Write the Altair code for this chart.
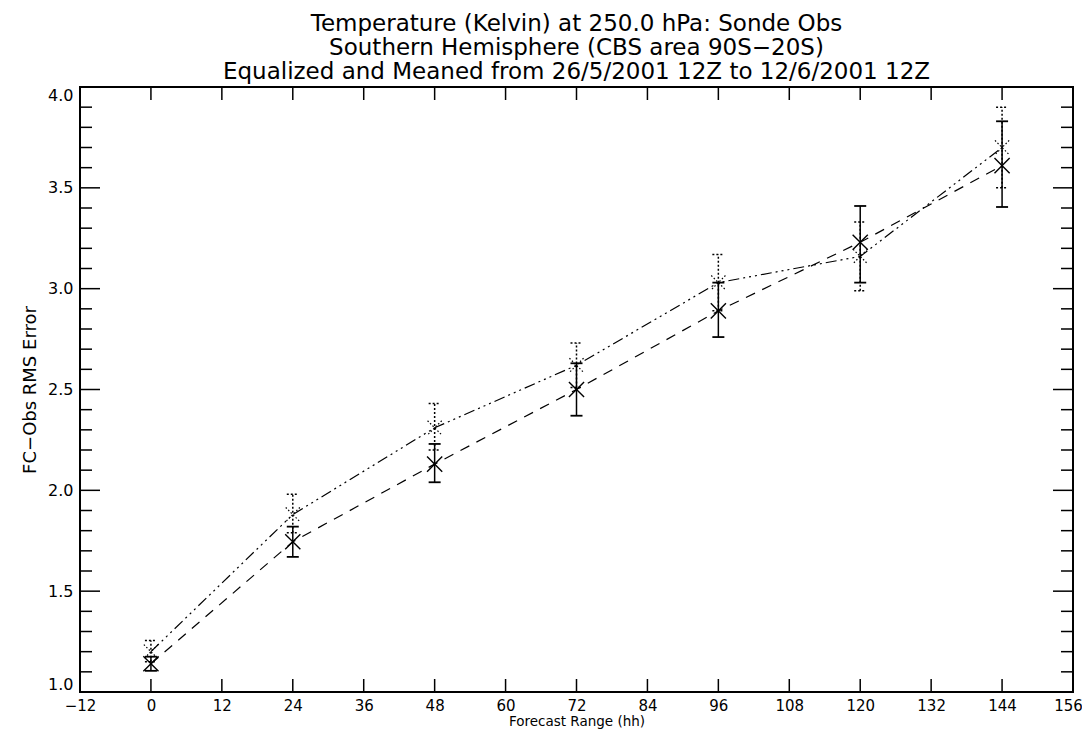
import altair as alt
import pandas as pd

# ---- data ----
hours = [0, 24, 48, 72, 96, 120, 144]

# series A (dash-dot-dot-dot line, dotted error bars)
rms_a = [1.20, 1.88, 2.31, 2.62, 3.03, 3.16, 3.70]
lo_a = [1.15, 1.79, 2.20, 2.51, 2.89, 2.99, 3.50]
hi_a = [1.255, 1.98, 2.43, 2.73, 3.17, 3.33, 3.90]

# series B (dashed line, X markers, solid error bars)
rms_b = [1.14, 1.745, 2.13, 2.50, 2.89, 3.23, 3.61]
lo_b = [1.105, 1.67, 2.04, 2.37, 2.76, 3.03, 3.405]
hi_b = [1.175, 1.82, 2.23, 2.63, 3.03, 3.41, 3.83]

x_ticks = [-12, 0, 12, 24, 36, 48, 60, 72, 84, 96, 108, 120, 132, 144, 156]
y_major = [1.0, 1.5, 2.0, 2.5, 3.0, 3.5, 4.0]
y_minor = [1.1, 1.2, 1.3, 1.4, 1.6, 1.7, 1.8, 1.9, 2.1, 2.2, 2.3, 2.4,
           2.6, 2.7, 2.8, 2.9, 3.1, 3.2, 3.3, 3.4, 3.6, 3.7, 3.8, 3.9]

title_lines = [
    "Temperature (Kelvin) at 250.0 hPa:  Sonde Obs",
    "Southern Hemisphere (CBS area 90S\u221220S)",
    "Equalized and Meaned from 26/5/2001 12Z to 12/6/2001 12Z",
]
x_title = "Forecast Range (hh)"
y_title = "FC\u2212Obs RMS Error"

W, H = 993, 605
FONT = "DejaVu Sans"

df = pd.DataFrame({
    "hour": hours,
    "rms_a": rms_a, "lo_a": lo_a, "hi_a": hi_a,
    "rms_b": rms_b, "lo_b": lo_b, "hi_b": hi_b,
})
dfx = pd.DataFrame({"hour": x_ticks})
dfy_major = pd.DataFrame({"v": y_major})
dfy_minor = pd.DataFrame({"v": y_minor})

xs = alt.Scale(domain=[-12, 156], nice=False, zero=False)
ys = alt.Scale(domain=[1.0, 4.0], nice=False, zero=False)

x_axis = alt.Axis(values=x_ticks, ticks=False, tickSize=0, domain=False, grid=False,
                  labelFont=FONT, labelFontSize=15, labelColor="black", labelPadding=6,
                  labelOffset={"condition": {"test": "datum.value >= 156", "value": -5},
                               "value": 0},
                  titleFont=FONT, titleFontSize=13.5, titleFontWeight="normal",
                  titleColor="black", titlePadding=1, labelFlush=False)
y_axis = alt.Axis(values=y_major, format=".1f", ticks=False, tickSize=0, domain=False,
                  grid=False, labelFont=FONT, labelFontSize=16, labelColor="black",
                  labelPadding=7, titleFont=FONT, titleFontSize=18,
                  titleFontWeight="normal", titleColor="black", titlePadding=8,
                  labelFlush=True)


def X(field):
    return alt.X(f"{field}:Q", scale=xs, axis=x_axis, title=x_title)


def Y(field):
    return alt.Y(f"{field}:Q", scale=ys, axis=y_axis, title=y_title)


def Y2(field):
    return alt.Y2(f"{field}:Q")


black = "black"

# ---- axis ticks drawn inward on all four sides ----
xt_bottom = alt.Chart(dfx).mark_rule(color=black, strokeWidth=1.5).encode(
    x=X("hour"), y=alt.value(H), y2=alt.value(H - 13))
xt_top = alt.Chart(dfx).mark_rule(color=black, strokeWidth=1.5).encode(
    x=X("hour"), y=alt.value(0), y2=alt.value(13))
yt_major_l = alt.Chart(dfy_major).mark_rule(color=black, strokeWidth=1.5).encode(
    y=Y("v"), x=alt.value(0), x2=alt.value(20))
yt_major_r = alt.Chart(dfy_major).mark_rule(color=black, strokeWidth=1.5).encode(
    y=Y("v"), x=alt.value(W - 20), x2=alt.value(W))
yt_minor_l = alt.Chart(dfy_minor).mark_rule(color=black, strokeWidth=1.5).encode(
    y=Y("v"), x=alt.value(0), x2=alt.value(12))
yt_minor_r = alt.Chart(dfy_minor).mark_rule(color=black, strokeWidth=1.5).encode(
    y=Y("v"), x=alt.value(W - 12), x2=alt.value(W))

base = alt.Chart(df)

# ---- series A ----
line_a = base.mark_line(color=black, strokeWidth=1.2,
                        strokeDash=[11, 4, 2, 4, 2, 4, 2, 4]).encode(
    x=X("hour"), y=Y("rms_a"))
err_a = base.mark_rule(color=black, strokeWidth=1.5, strokeDash=[2, 2]).encode(
    x=X("hour"), y=Y("lo_a"), y2=Y2("hi_a"))
cap_a_lo = base.mark_rule(color=black, strokeWidth=1.5, strokeDash=[2, 2],
                          xOffset=-6, x2Offset=6).encode(
    x=X("hour"), x2=alt.X2("hour:Q"), y=Y("lo_a"))
cap_a_hi = base.mark_rule(color=black, strokeWidth=1.5, strokeDash=[2, 2],
                          xOffset=-6, x2Offset=6).encode(
    x=X("hour"), x2=alt.X2("hour:Q"), y=Y("hi_a"))
mark_a = base.mark_point(shape="M-1,-1L1,1M1,-1L-1,1", size=200, filled=False,
                         color=black, strokeWidth=1.2, strokeDash=[1.5, 2],
                         opacity=1).encode(x=X("hour"), y=Y("rms_a"))

# ---- series B ----
line_b = base.mark_line(color=black, strokeWidth=1.2, strokeDash=[10, 8]).encode(
    x=X("hour"), y=Y("rms_b"))
err_b = base.mark_rule(color=black, strokeWidth=1.5).encode(
    x=X("hour"), y=Y("lo_b"), y2=Y2("hi_b"))
cap_b_lo = base.mark_rule(color=black, strokeWidth=1.8, xOffset=-6, x2Offset=6).encode(
    x=X("hour"), x2=alt.X2("hour:Q"), y=Y("lo_b"))
cap_b_hi = base.mark_rule(color=black, strokeWidth=1.8, xOffset=-6, x2Offset=6).encode(
    x=X("hour"), x2=alt.X2("hour:Q"), y=Y("hi_b"))
mark_b = base.mark_point(shape="M-1,-1L1,1M1,-1L-1,1", size=230, filled=False,
                         color=black, strokeWidth=1.4, opacity=1).encode(
    x=X("hour"), y=Y("rms_b"))

chart = alt.layer(
    xt_bottom, xt_top, yt_major_l, yt_major_r, yt_minor_l, yt_minor_r,
    line_a, err_a, cap_a_lo, cap_a_hi, mark_a,
    line_b, err_b, cap_b_lo, cap_b_hi, mark_b,
).properties(
    width=W, height=H,
    title=alt.TitleParams(text=title_lines, font=FONT, fontSize=23, lineHeight=24,
                          fontWeight="normal", color=black, anchor="middle", offset=2),
    autosize=alt.AutoSizeParams(type="none"),
    padding={"left": 72, "top": 79, "right": 9, "bottom": 38},
).configure_view(
    stroke=black, strokeWidth=2
)

chart.save("out.html", embed_options={"renderer": "svg", "actions": False})
